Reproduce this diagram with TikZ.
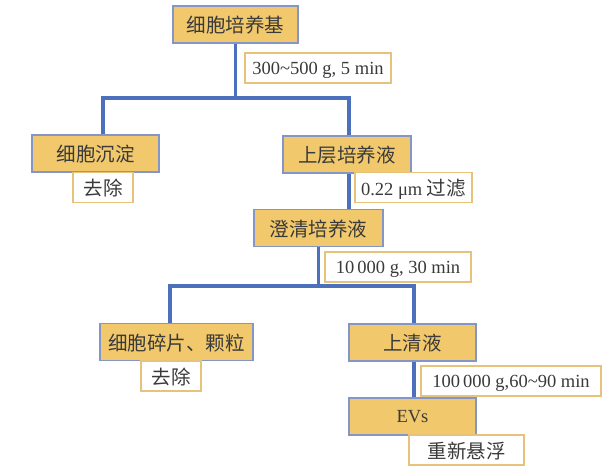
\documentclass[tikz,border=0pt]{standalone}
\usepackage{fontspec}
\setmainfont{Liberation Serif}
\newfontfamily\cjk{Noto Sans CJK SC}
\usetikzlibrary{positioning}

\begin{document}
\begin{tikzpicture}[
    x=1pt, y=-1pt,
    every node/.style={font=\fontsize{18.5}{22}\selectfont, text=textgray, inner sep=0pt},
    stage/.style={
        draw=boxblue,
        fill=boxgold,
        line width=1.4pt,
        minimum height=37pt,
        text depth=0pt,
    },
    note/.style={
        draw=noteline,
        fill=white,
        line width=1.2pt,
        minimum height=30pt,
        text depth=0pt,
    },
    zh/.style={font=\fontsize{19.5}{22}\selectfont\cjk},
    link/.style={draw=linkblue, line width=3.2pt}
]

% Colors matching the original
\definecolor{boxgold}{HTML}{F1C86B}
\definecolor{boxblue}{HTML}{8496C8}
\definecolor{linkblue}{HTML}{4D70BD}
\definecolor{noteline}{HTML}{E6C27A}
\definecolor{textgray}{HTML}{3A3A3A}

\useasboundingbox (0,0) rectangle (606,471);

% Stages
\node[stage, zh, minimum width=125pt] (medium) at (235.5,24.5) {细胞培养基};
\node[stage, zh, minimum width=127pt] (pellet) at (95.5,153.5) {细胞沉淀};
\node[stage, zh, minimum width=128pt] (upper) at (347,154.5) {上层培养液};
\node[stage, zh, minimum width=129pt] (clear) at (318.5,228) {澄清培养液};
\node[stage, zh, minimum width=153pt] (debris) at (176.5,342) {细胞碎片、颗粒};
\node[stage, zh, minimum width=127pt] (super) at (412.5,342.5) {上清液};
\node[stage, minimum width=127pt] (evs) at (412.5,416.5) {EVs};

% Notes
\node[note, minimum width=146pt] (spinA) at (318,68) {300\textasciitilde500 g, 5 min};
\node[note, zh, minimum width=60pt] (dropA) at (103,187.5) {去除};
\node[note, minimum width=117pt] (filter) at (413.5,187.5) {0.22 μm {\fontsize{19.5}{22}\cjk 过滤}};
\node[note, minimum width=146pt] (spinB) at (398,267) {10\,000 g, 30 min};
\node[note, zh, minimum width=60pt] (dropB) at (171,376) {去除};
\node[note, minimum width=180pt] (spinC) at (511,381) {100\,000 g,60\textasciitilde90 min};
\node[note, zh, minimum width=115pt] (resus) at (466.5,450) {重新悬浮};

% Branch points
\coordinate (splitA) at (235.5,98);
\coordinate (splitB) at (318.5,286);

% Connectors
\path[link] (medium) -- (splitA);
\path[link] (splitA) -| ([xshift=7.5pt]pellet.north);
\path[link] (splitA) -| ([xshift=2pt]upper.north);
\path[link] ([xshift=2pt]upper.south) -- ([xshift=2pt]upper.south |- clear.north);
\path[link] (clear) -- (splitB);
\path[link] (splitB) -| ([xshift=-6.5pt]debris.north);
\path[link] (splitB) -| ([xshift=1.5pt]super.north);
\path[link] ([xshift=1.5pt]super.south) -- ([xshift=1.5pt]evs.north);

\end{tikzpicture}
\end{document}
